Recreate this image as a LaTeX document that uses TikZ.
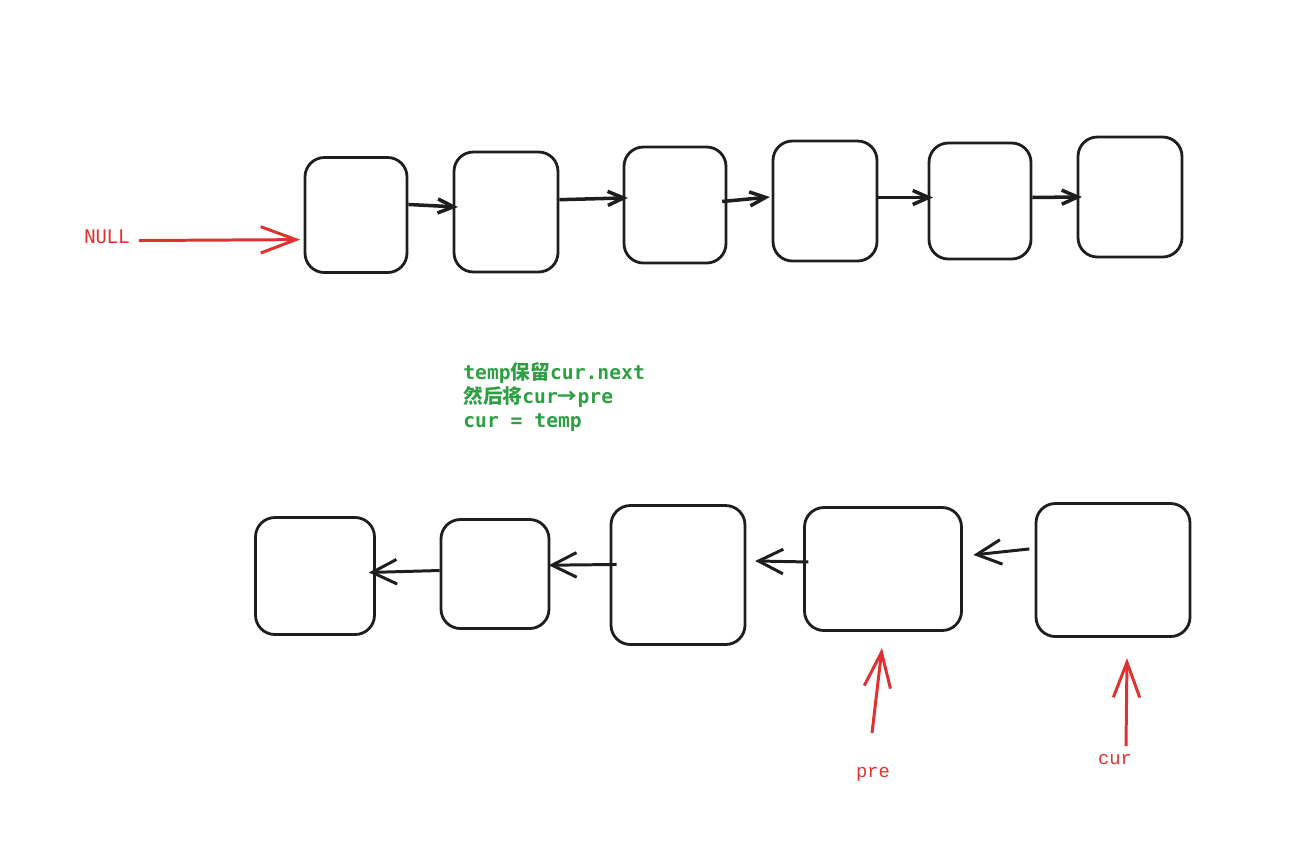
\documentclass[tikz,border=0pt]{standalone}
\usepackage{fontspec}
\setmonofont{DejaVu Sans Mono}
\newfontfamily\cjk{Noto Sans CJK SC}
\newfontfamily\labelfont{Liberation Mono}
\usetikzlibrary{arrows.meta}
\definecolor{inkblack}{HTML}{1E1E1E}
\definecolor{inkred}{HTML}{E03131}
\definecolor{inkgreen}{HTML}{2F9E44}
\begin{document}
\begin{tikzpicture}[x=0.02cm,y=-0.02cm,
  listnode/.style={draw=inkblack,line width=1.6pt,rounded corners=11pt,inner sep=0pt},
  link/.style={draw=inkblack,line width=2pt,shorten >=-3pt,-{Straight Barb[length=9pt,width=8pt]}},
  backlink/.style={draw=inkblack,line width=1.7pt,-{Straight Barb[length=14pt,width=14pt]}},
  pointer/.style={draw=inkred,line width=1.7pt,-{Straight Barb[length=20pt,width=15pt]}},
  redlabel/.style={text=inkred,inner sep=1pt,font=\labelfont\fontsize{10.7pt}{12pt}\selectfont}]
\useasboundingbox (0,0) rectangle (1301,840);
% original list
\node[listnode,minimum width=2.04cm,minimum height=2.30cm] (n1) at (356,215) {};
\node[listnode,minimum width=2.08cm,minimum height=2.40cm] (n2) at (506,212) {};
\node[listnode,minimum width=2.04cm,minimum height=2.32cm] (n3) at (675,205) {};
\node[listnode,minimum width=2.08cm,minimum height=2.40cm] (n4) at (825,201) {};
\node[listnode,minimum width=2.04cm,minimum height=2.32cm] (n5) at (980,201) {};
\node[listnode,minimum width=2.08cm,minimum height=2.40cm] (n6) at (1130,197) {};
\draw[link] ([yshift=6pt]n1.east) -- ([yshift=3pt]n2.west);
\draw[link] ([yshift=7pt]n2.east) -- ([yshift=4pt]n3.west);
\draw[link] ([xshift=-3pt,yshift=2pt]n3.east) -- ([xshift=-4pt,yshift=2pt]n4.west);
\draw[link] ([yshift=2pt]n4.east) -- ([yshift=2pt]n5.west);
\draw[link] ([yshift=2pt]n5.east) -- (n6.west);
\node[text=inkred,inner sep=1pt,font=\ttfamily\fontsize{10.7pt}{12pt}\selectfont] (nullLbl) at (107,237) {NULL};
\draw[pointer] ([xshift=4pt,yshift=-2pt]nullLbl.east) -- ([xshift=-2pt,yshift=-14pt]n1.west);
% explanation
\node[text=inkgreen,anchor=north west,align=left,inner sep=0pt,
  font=\ttfamily\bfseries\fontsize{11.2pt}{13.6pt}\selectfont] (note) at (463,362)
  {temp{\cjk 保留}cur.next\\{\cjk 然后将}cur{\cjk →}pre\\cur = temp};
% reversed list
\node[listnode,minimum width=2.38cm,minimum height=2.34cm] (r1) at (315,576) {};
\node[listnode,minimum width=2.16cm,minimum height=2.18cm] (r2) at (495,574) {};
\node[listnode,minimum width=2.68cm,minimum height=2.78cm] (r3) at (678,575) {};
\node[listnode,minimum width=3.14cm,minimum height=2.46cm] (r4) at (883,569) {};
\node[listnode,minimum width=3.08cm,minimum height=2.66cm] (r5) at (1113,570) {};
\draw[backlink] ([yshift=2pt]r2.west) -- ([xshift=-4pt,yshift=2pt]r1.east);
\draw[backlink] ([xshift=4pt,yshift=6pt]r3.west) -- ([xshift=-1pt,yshift=5pt]r2.east);
\draw[backlink] ([xshift=3pt,yshift=4pt]r4.west) -- ([xshift=5pt,yshift=8pt]r3.east);
\draw[backlink] ([xshift=-3pt,yshift=12pt]r5.west) -- ([xshift=6pt,yshift=8pt]r4.east);
% pointers
\node[redlabel] (preLbl) at (873,774) {pre};
\node[redlabel] (curLbl) at (1115,760) {cur};
\coordinate (preTail) at (872,733);
\coordinate (preTip) at (882,648);
\coordinate (curTail) at (1126,746);
\coordinate (curTip) at (1127,658);
\draw[pointer] (preTail) -- (preTip);
\draw[pointer] (curTail) -- (curTip);
\end{tikzpicture}
\end{document}
